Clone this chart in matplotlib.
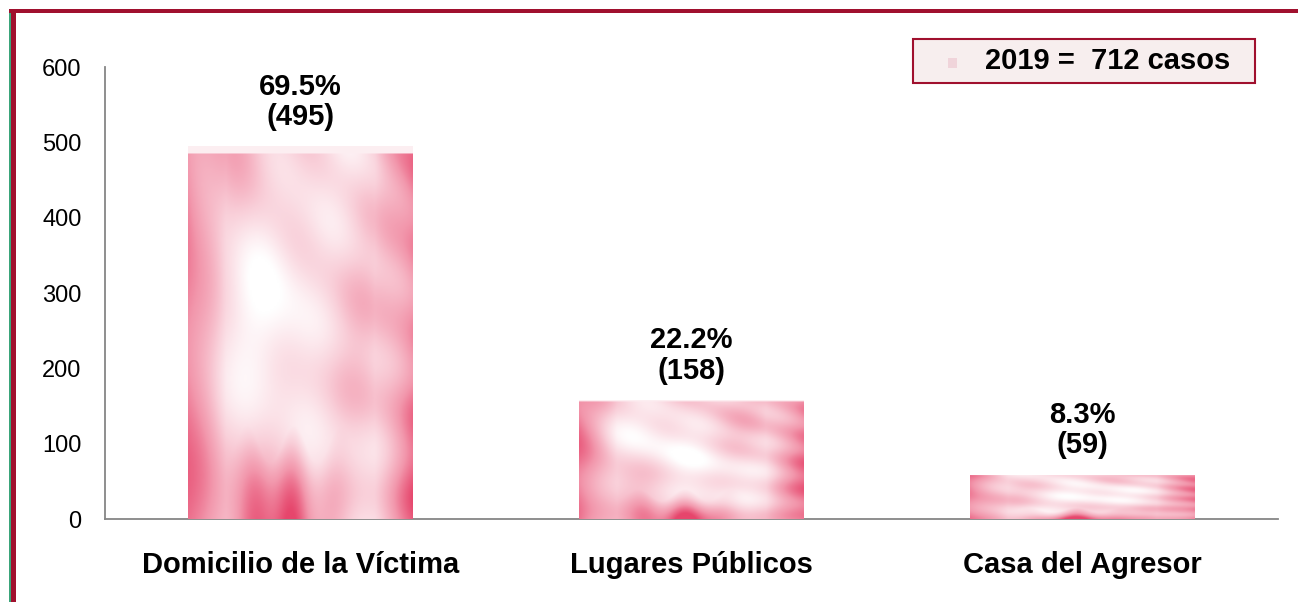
import numpy as np
import matplotlib
matplotlib.use("Agg")
import matplotlib.pyplot as plt
from matplotlib.colors import LinearSegmentedColormap
from matplotlib.patches import Rectangle

plt.rcParams['font.family'] = ['Liberation Sans', 'DejaVu Sans']

categorias = ["Domicilio de la Víctima", "Lugares Públicos", "Casa del Agresor"]
casos = [495, 158, 59]
porcentajes = ["69.5%", "22.2%", "8.3%"]
leyenda = "2019 =  712 casos"

W, H = 1298, 602
fig = plt.figure(figsize=(W / 100, H / 100), dpi=100)
ax = fig.add_axes([105 / W, 1 - 519 / H, (1278 - 105) / W, (519 - 67) / H])

x = np.arange(len(categorias))
ancho = 0.575
barras = ax.bar(x, casos, width=ancho, color="#f2a2b4", edgecolor="none", zorder=2)

# textura rosada moteada dentro de cada barra
cmap = LinearSegmentedColormap.from_list("rosa", ["#ffffff", "#f9cfd9", "#f297ac", "#e6466c"])
for i, b in enumerate(barras):
    u = np.linspace(0, 1, 150)
    v = np.linspace(0, 1, 250)
    U, V = np.meshgrid(u, v)
    borde = np.clip(1 - np.minimum(U, 1 - U) * 6, 0, 1)
    mancha = (0.14 * np.sin(7 * U + 3 * i) * np.cos(6 * V + 1.5 * i)
              + 0.08 * np.sin(17 * U * V + 11 * V + i)
              + 0.06 * np.cos(19 * U - 4 * V + 2 * i))
    centro = np.exp(-((U - 0.45) ** 2 / 0.06 + (V - 0.55) ** 2 / 0.1))
    pie = np.clip(0.2 - V + 0.05 * np.sin(30 * U), 0, 1) * np.exp(-(U - 0.45) ** 2 / 0.04) * 3
    z = np.clip(0.36 + 0.4 * borde + mancha - 0.3 * centro + pie, 0, 1)
    z[-5:, :] = 0.12
    im = ax.imshow(z, cmap=cmap, vmin=0, vmax=1, origin="lower", aspect="auto",
                   extent=[b.get_x(), b.get_x() + b.get_width(), 0, b.get_height()],
                   zorder=3, interpolation="bilinear")
    im.set_clip_path(b)

for xi, c, p in zip(x, casos, porcentajes):
    ax.annotate(f"{p}\n({c})", (xi, c), xytext=(0, 11), textcoords="offset points",
                ha="center", va="bottom", fontsize=21, fontweight="bold",
                linespacing=1.1, zorder=4)

ax.set_xlim(-0.5, 2.5)
ax.set_ylim(0, 600)
ax.set_yticks(range(0, 601, 100))
ax.set_xticks(x)
ax.set_xticklabels(categorias, fontsize=21, fontweight="bold")
ax.tick_params(axis="y", length=0, pad=17, labelsize=17)
ax.tick_params(axis="x", length=0, pad=23)
for s in ["top", "right"]:
    ax.spines[s].set_visible(False)
for s in ["left", "bottom"]:
    ax.spines[s].set_color("#868686")
    ax.spines[s].set_linewidth(1.3)

# leyenda
fig.add_artist(Rectangle((913 / W, 1 - 83 / H), (1255 - 913) / W, 44 / H,
                         transform=fig.transFigure, facecolor="#f7eeee",
                         edgecolor="#a0102e", linewidth=1.5))
fig.add_artist(Rectangle((948 / W, 1 - 68 / H), 9 / W, 10 / H,
                         transform=fig.transFigure, facecolor="#f0d4da",
                         edgecolor="none"))
fig.text(985 / W, 1 - 61 / H, leyenda, fontsize=21, fontweight="bold",
         ha="left", va="center")

# marco
fig.add_artist(Rectangle((11 / W, 0), 4.5 / W, 1 - 9 / H, transform=fig.transFigure,
                         facecolor="#a0102e", edgecolor="none"))
fig.add_artist(Rectangle((9 / W, 0), 2 / W, 1 - 9 / H, transform=fig.transFigure,
                         facecolor="#3aa57a", edgecolor="none"))
fig.add_artist(Rectangle((9 / W, 1 - 13 / H), 1 - 9 / W, 4 / H, transform=fig.transFigure,
                         facecolor="#a0102e", edgecolor="none"))

fig.savefig("out.png", dpi=100)
